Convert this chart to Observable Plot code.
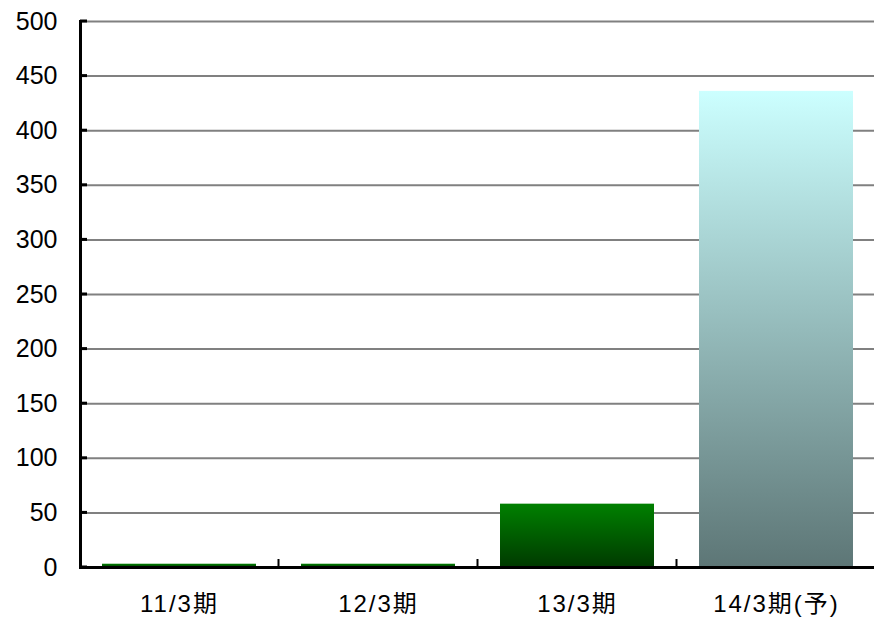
<!DOCTYPE html>
<html><head><meta charset="utf-8">
<script src="https://cdn.jsdelivr.net/npm/d3@7"></script>
<script src="https://cdn.jsdelivr.net/npm/@observablehq/plot@0.6"></script>
<style>
body{margin:0;background:#fff;} svg{display:block;}
svg text{font-size:25px; fill:#000;}
</style>
</head><body><div id="chart"></div>
<script>
const categories = ["11/3期", "12/3期", "13/3期", "14/3期(予)"];
const values = [3, 3, 58, 436];
const forecast = [false, false, false, true];
const yTicks = [0, 50, 100, 150, 200, 250, 300, 350, 400, 450, 500];

const data = categories.map((c, i) => ({cat: c, value: values[i], forecast: forecast[i]}));

const font = "'Liberation Sans', Arial, 'Noto Sans CJK JP', sans-serif";

function gradientDefs() {
  const defs = d3.create("svg:defs");
  const g1 = defs.append("linearGradient").attr("id", "gGreen").attr("x1", 0).attr("y1", 0).attr("x2", 0).attr("y2", 1);
  g1.append("stop").attr("offset", "0%").attr("stop-color", "#008000");
  g1.append("stop").attr("offset", "100%").attr("stop-color", "#003a00");
  const g2 = defs.append("linearGradient").attr("id", "gCyan").attr("x1", 0).attr("y1", 0).attr("x2", 0).attr("y2", 1);
  g2.append("stop").attr("offset", "0%").attr("stop-color", "#ccffff");
  g2.append("stop").attr("offset", "100%").attr("stop-color", "#5d7676");
  return defs.node();
}

function boundaryTicks(index, scales, values, dimensions) {
  const x = scales.x;
  const sx = scales.scales && scales.scales.x;
  const bw = sx && sx.bandwidth != null ? sx.bandwidth : (x.bandwidth ? x.bandwidth() : 0);
  const step = x(categories[1]) - x(categories[0]);
  const gap = step - bw;
  const y0 = dimensions.height - dimensions.marginBottom;
  const g = d3.create("svg:g").attr("stroke", "#000").attr("stroke-width", 2);
  for (let i = 1; i <= categories.length; i++) {
    const bx = x(categories[i - 1]) + bw + gap / 2;
    g.append("line").attr("x1", bx).attr("x2", bx).attr("y1", y0).attr("y2", y0 - 8);
  }
  const ml = dimensions.marginLeft;
  for (const t of yTicks) {
    const yy = scales.y(t);
    g.append("line").attr("x1", ml).attr("x2", ml + 7).attr("y1", yy).attr("y2", yy).attr("stroke-width", 3);
  }
  return g.node();
}

const plot = Plot.plot({
  width: 874,
  height: 617,
  marginLeft: 80,
  marginRight: -2,
  marginTop: 21,
  marginBottom: 50,
  style: {fontFamily: font, fontSize: "25px", color: "#000", background: "#fff", overflow: "hidden"},
  x: {domain: categories, paddingInner: 0.224, paddingOuter: 0.112, label: null},
  y: {domain: [0, 500], label: null},
  marks: [
    gradientDefs,
    Plot.gridY(yTicks, {stroke: "#808080", strokeOpacity: 1, strokeWidth: 2}),
    Plot.barY(data.filter(d => !d.forecast), {x: "cat", y: "value", fill: "url(#gGreen)"}),
    Plot.barY(data.filter(d => d.forecast), {x: "cat", y: "value", fill: "url(#gCyan)"}),
    Plot.axisY(yTicks, {tickSize: 0, tickPadding: 23, fontSize: 25, fontFamily: font}),
    Plot.axisX({tickSize: 0, tickPadding: 27, fontSize: 24, fontFamily: font}),
    Plot.ruleY([0], {stroke: "#000", strokeWidth: 3}),
    Plot.frame({anchor: "left", stroke: "#000", strokeWidth: 3}),
    boundaryTicks
  ]
});
d3.select(plot).selectAll('[aria-label="x-axis tick label"] text')
  .style("letter-spacing", "2px").style("font-size", "24px");
document.getElementById("chart").appendChild(plot);
</script>
</body></html>
